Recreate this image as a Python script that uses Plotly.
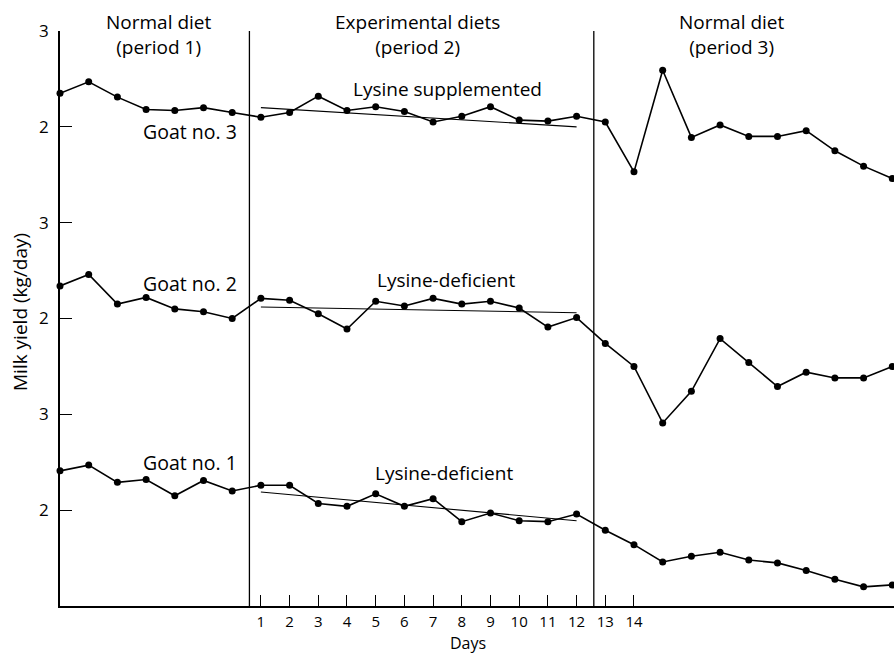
import plotly.graph_objects as go

# ---------------- data ----------------
days = list(range(-6, 24))  # period 1: -6..0, period 2: 1..12, period 3: 13..23

goat3 = [2.35, 2.47, 2.31, 2.18, 2.17, 2.20, 2.15,
         2.10, 2.15, 2.32, 2.17, 2.21, 2.16, 2.05, 2.11, 2.21, 2.07, 2.06, 2.11,
         2.05, 1.53, 2.59, 1.89, 2.02, 1.90, 1.90, 1.96, 1.75, 1.59, 1.46]
goat2 = [2.34, 2.46, 2.15, 2.22, 2.10, 2.07, 2.00,
         2.21, 2.19, 2.05, 1.89, 2.18, 2.13, 2.21, 2.15, 2.18, 2.11, 1.91, 2.01,
         1.74, 1.50, 0.91, 1.24, 1.79, 1.54, 1.29, 1.44, 1.38, 1.38, 1.50]
goat1 = [2.41, 2.47, 2.29, 2.32, 2.15, 2.31, 2.20,
         2.26, 2.26, 2.07, 2.04, 2.17, 2.04, 2.12, 1.88, 1.97, 1.89, 1.88, 1.96,
         1.79, 1.64, 1.46, 1.52, 1.56, 1.48, 1.45, 1.37, 1.28, 1.20, 1.22]

trend_days = [1, 12]
trend3 = [2.20, 2.00]
trend2 = [2.12, 2.06]
trend1 = [2.19, 1.89]

offsets = {"goat1": 0, "goat2": 2, "goat3": 4}   # vertical stacking of the panels
period_bounds = [0.6, 12.6]
day_ticks = list(range(1, 15))
y_tickvals = [2, 3, 4, 5, 6, 7]
y_ticktext = ["2", "3", "2", "3", "2", "3"]

# ---------------- figure ----------------
W, H = 894, 656
ML, MR, MT, MB = 60, 0, 31, 50
FONT = "Open Sans"

fig = go.Figure()

series = [(goat1, trend1, offsets["goat1"]),
          (goat2, trend2, offsets["goat2"]),
          (goat3, trend3, offsets["goat3"])]
for vals, trend, off in series:
    fig.add_trace(go.Scatter(
        x=days, y=[v + off for v in vals], mode="lines+markers",
        line=dict(color="black", width=1.6),
        marker=dict(color="black", size=7),
        cliponaxis=False, showlegend=False, hoverinfo="skip"))
    fig.add_trace(go.Scatter(
        x=trend_days, y=[v + off for v in trend], mode="lines",
        line=dict(color="black", width=1.1),
        cliponaxis=False, showlegend=False, hoverinfo="skip"))

for xb in period_bounds:
    fig.add_shape(type="line", xref="x", yref="y", x0=xb, x1=xb, y0=1, y1=7,
                  line=dict(color="black", width=1.3))


def px(xp, yp):
    return (xp - ML) / (W - ML - MR), (H - MB - yp) / (H - MT - MB)


labels = [
    ("Normal diet<br>(period 1)", 158, 35, 19, "middle"),
    ("Experimental diets<br>(period 2)", 417, 35, 19, "middle"),
    ("Normal diet<br>(period 3)", 731, 35, 19, "middle"),
    ("Lysine supplemented", 447, 89, 19, "middle"),
    ("Goat no. 3", 190, 132, 19.5, "middle"),
    ("Goat no. 2", 190, 283, 19.5, "middle"),
    ("Lysine-deficient", 446, 280, 19, "middle"),
    ("Goat no. 1", 190, 462, 19.5, "middle"),
    ("Lysine-deficient", 444, 473, 19, "middle"),
    ("Days", 468, 656, 16, "bottom"),
]
for text, xp, yp, fs, ya in labels:
    xx, yy = px(xp, yp)
    fig.add_annotation(text=text, x=xx, y=yy, xref="paper", yref="paper",
                       showarrow=False, xanchor="center", yanchor=ya,
                       font=dict(family=FONT, size=fs, color="black"))

xx, yy = px(20, 312)
fig.add_annotation(text="Milk yield (kg/day)", x=xx, y=yy, xref="paper", yref="paper",
                   showarrow=False, textangle=-90, xanchor="center", yanchor="middle",
                   font=dict(family=FONT, size=19, color="black"))

fig.update_layout(
    width=W, height=H,
    margin=dict(l=ML, r=MR, t=MT, b=MB, pad=0),
    paper_bgcolor="white", plot_bgcolor="white",
    font=dict(family=FONT, size=17, color="black"),
    xaxis=dict(range=[-6.0, 23.06], showgrid=False, zeroline=False,
               showline=True, linecolor="black", linewidth=1.6,
               tickmode="array", tickvals=day_ticks, ticktext=[str(d) for d in day_ticks],
               ticks="inside", ticklen=11, tickwidth=1.2, tickcolor="black",
               ticklabelstandoff=1,
               tickfont=dict(family=FONT, size=15, color="black")),
    yaxis=dict(range=[1, 7], showgrid=False, zeroline=False,
               showline=True, linecolor="black", linewidth=1.6,
               tickmode="array", tickvals=y_tickvals, ticktext=y_ticktext,
               ticks="inside", ticklen=12, tickwidth=1.2, tickcolor="black",
               ticklabelstandoff=6,
               tickfont=dict(family=FONT, size=17, color="black")),
)

fig.write_html(
    "out.html",
    config={"displayModeBar": False},
    post_script="document.body.style.margin='0';document.body.style.overflow='hidden';",
)
